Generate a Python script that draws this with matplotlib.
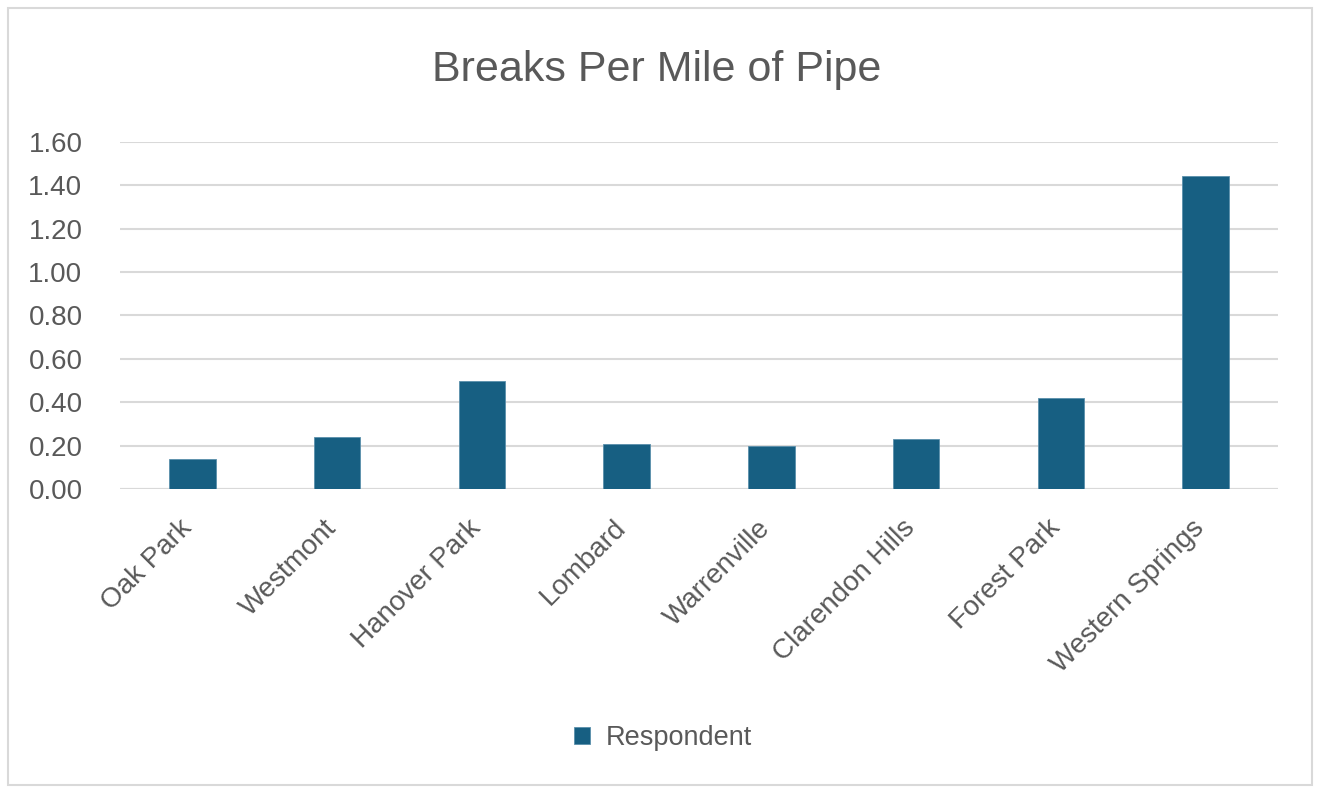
import matplotlib
matplotlib.use("Agg")
import matplotlib.pyplot as plt
import matplotlib.transforms as mtransforms
from matplotlib.patches import Rectangle
from matplotlib import font_manager

categories = ["Oak Park", "Westmont", "Hanover Park", "Lombard", "Warrenville",
              "Clarendon Hills", "Forest Park", "Western Springs"]
values = [0.14, 0.24, 0.50, 0.21, 0.20, 0.23, 0.42, 1.44]
yticks = [0.0, 0.2, 0.4, 0.6, 0.8, 1.0, 1.2, 1.4, 1.6]
series_name = "Respondent"
title = "Breaks Per Mile of Pipe"

names = {f.name for f in font_manager.fontManager.ttflist}
fam = ["Liberation Sans Narrow"] if "Liberation Sans Narrow" in names else ["Liberation Sans"]
plt.rcParams['font.family'] = fam + ["DejaVu Sans"]

W, H = 1320, 791
fig = plt.figure(figsize=(W / 100, H / 100), dpi=100)
fig.patch.set_facecolor("white")
# outer frame
fig.patches.append(Rectangle((8 / W, 1 - 785 / H), 1304 / W, 777 / H, transform=fig.transFigure,
                             fill=False, edgecolor="#d9d9d9", linewidth=1.5))

ax = fig.add_axes([120 / W, 1 - 489.3 / H, (1278 - 120) / W, (489.3 - 141.7) / H])
x = list(range(len(categories)))
ax.bar(x, values, width=0.32, color="#175f82", edgecolor="#5a8fab", linewidth=0.6,
       label=series_name, zorder=3)
ax.set_xlim(-0.5, len(categories) - 0.5)
ax.set_ylim(0, 1.6)
ax.set_yticks(yticks)
ax.set_yticklabels([f"{v:.2f}" for v in yticks])
ax.yaxis.grid(True, color="#d9d9d9", linewidth=1.5, zorder=0)
for s in ["top", "right", "left", "bottom"]:
    ax.spines[s].set_visible(False)
ax.axhline(0, color="#d9d9d9", linewidth=1.5, zorder=1)
ax.tick_params(axis="both", length=0, labelsize=20, labelcolor="#595959")
ax.tick_params(axis="y", pad=27)
ax.set_xticks(x)
ax.set_xticklabels(categories, rotation=45, ha="right", rotation_mode="anchor")
ax.tick_params(axis="x", pad=12)
offset = mtransforms.ScaledTranslation(-14 / 100, -9 / 100, fig.dpi_scale_trans)
for lbl in ax.get_xticklabels():
    lbl.set_transform(lbl.get_transform() + offset)

fig.text(657 / W, 1 - 81 / H, title, ha="center", va="baseline", fontsize=31, color="#595959")

leg = fig.legend(loc="center", bbox_to_anchor=(663 / W, 1 - 738 / H), frameon=False,
                 fontsize=19.5, labelcolor="#595959", handlelength=0.6, handleheight=0.6,
                 handletextpad=0.6)

fig.savefig("out.png", dpi=100, facecolor="white")
